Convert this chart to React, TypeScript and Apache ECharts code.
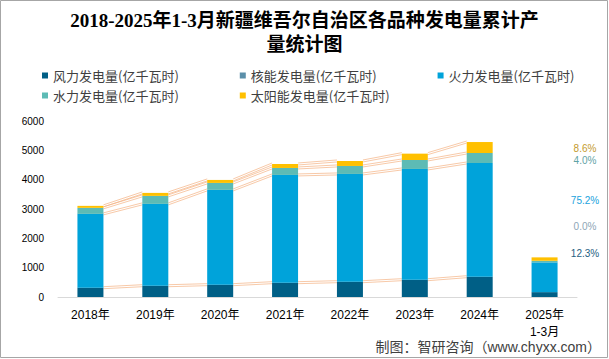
import React, { useEffect, useRef } from "react";
import * as echarts from "echarts";

const categories = ["2018年", "2019年", "2020年", "2021年", "2022年", "2023年", "2024年", "2025年\n1-3月"];
const windValues = [317, 385, 420, 488, 522, 590, 692, 166];
const nuclearValues = [0, 0, 0, 0, 0, 0, 0, 0];
const thermalValues = [2517, 2790, 3231, 3673, 3673, 3775, 3877, 1015];
const hydroValues = [205, 272, 238, 238, 272, 306, 340, 54];
const solarValues = [68, 102, 102, 136, 170, 216, 374, 116];
const seriesNames = [
  "风力发电量(亿千瓦时)",
  "核能发电量(亿千瓦时)",
  "火力发电量(亿千瓦时)",
  "水力发电量(亿千瓦时)",
  "太阳能发电量(亿千瓦时)",
];
const shareLabels = ["12.3%", "0.0%", "75.2%", "4.0%", "8.6%"]; // wind, nuclear, thermal, hydro, solar (2025 1-3月)
const yTicks = [0, 1000, 2000, 3000, 4000, 5000, 6000];

const COLORS = ["#005F86", "#5B8FA9", "#00A3DA", "#5DBBB5", "#FFC000"];
const LABEL_COLORS = ["#1F5E82", "#8EA6B6", "#1BA3DD", "#5FA3A6", "#C49A2C"];
const BAR_W = 26;

export default function App() {
  const ref = useRef<HTMLDivElement>(null);
  useEffect(() => {
    if (!ref.current) return;
    const chart = echarts.init(ref.current, undefined, { renderer: "svg" });
    const all = [windValues, nuclearValues, thermalValues, hydroValues, solarValues];
    const cum: number[][] = [];
    let running = categories.map(() => 0);
    all.forEach((arr) => {
      running = running.map((r, i) => r + arr[i]);
      cum.push(running.slice());
    });
    const connectorData: number[][] = [];
    [0, 2, 3, 4].forEach((lvl) => {
      for (let i = 0; i < 6; i++) {
        connectorData.push([i, cum[lvl][i], cum[lvl][i + 1]]);
      }
    });

    const labelY = [253, 226, 200, 160, 148];
    const cjk = "'Noto Sans CJK SC', sans-serif";

    chart.setOption({
      animation: false,
      title: {
        text: "2018-2025年1-3月新疆维吾尔自治区各品种发电量累计产\n量统计图",
        left: "center",
        top: 8,
        padding: 0,
        textStyle: {
          fontSize: 19,
          fontWeight: "bold",
          lineHeight: 24,
          color: "#000",
          fontFamily: "'Liberation Serif', 'Noto Sans CJK SC', serif",
        },
      },
      legend: [
        {
          data: seriesNames.slice(0, 3),
          left: 42,
          top: 69,
          padding: 0,
          itemGap: 61,
          itemWidth: 6,
          itemHeight: 6,
          icon: "rect",
          textStyle: { fontSize: 13, color: "#404040", fontFamily: cjk },
        },
        {
          data: seriesNames.slice(3),
          left: 42,
          top: 89,
          padding: 0,
          itemGap: 61,
          itemWidth: 6,
          itemHeight: 6,
          icon: "rect",
          textStyle: { fontSize: 13, color: "#404040", fontFamily: cjk },
        },
      ],
      grid: { left: 58, right: 32, top: 121, bottom: 62 },
      xAxis: {
        type: "category",
        data: categories,
        axisLine: { lineStyle: { color: "#D9D9D9", width: 1 } },
        axisTick: { show: false },
        axisLabel: {
          fontSize: 12,
          color: "#000",
          margin: 9,
          lineHeight: 17,
          fontFamily: "'Liberation Sans', 'Noto Sans CJK SC', sans-serif",
        },
      },
      yAxis: {
        type: "value",
        min: yTicks[0],
        max: yTicks[yTicks.length - 1],
        interval: 1000,
        splitLine: { show: false },
        axisLine: { show: false },
        axisTick: { show: false },
        axisLabel: {
          fontSize: 10,
          color: "#000",
          margin: 14,
          formatter: (v: number) => String(v),
          fontFamily: "'Liberation Sans', sans-serif",
        },
      },
      series: [
        ...all.map((arr, k) => ({
          name: seriesNames[k],
          type: "bar",
          stack: "total",
          barWidth: BAR_W,
          data: arr,
          itemStyle: { color: COLORS[k] },
        })),
        {
          type: "custom",
          silent: true,
          z: 1,
          data: connectorData,
          encode: { x: 0, y: 1 },
          renderItem: (params: any, api: any) => {
            const i = api.value(0);
            const p1 = api.coord([i, api.value(1)]);
            const p2 = api.coord([i + 1, api.value(2)]);
            const x1 = p1[0] + BAR_W / 2;
            const x2 = p2[0] - BAR_W / 2;
            const st = { stroke: "#F4B183", lineWidth: 0.7 };
            return {
              type: "group",
              children: [
                { type: "line", shape: { x1, y1: p1[1] - 1, x2, y2: p2[1] - 1 }, style: st },
                { type: "line", shape: { x1, y1: p1[1] + 1, x2, y2: p2[1] + 1 }, style: st },
              ],
            };
          },
        },
      ],
      graphic: [
        {
          type: "rect",
          shape: { x: 0.5, y: 0.5, width: 607, height: 357 },
          style: { fill: "none", stroke: "#A6A6A6", lineWidth: 1 },
          silent: true,
        },
        ...shareLabels.map((t, k) => ({
          type: "text",
          x: 585,
          y: labelY[k],
          style: {
            text: t,
            fill: LABEL_COLORS[k],
            fontSize: 10,
            fontFamily: "'Liberation Sans', sans-serif",
            align: "center",
            verticalAlign: "middle",
          },
        })),
        {
          type: "text",
          x: 601,
          y: 347,
          style: {
            text: "制图：智研咨询（www.chyxx.com）",
            fill: "#404040",
            fontSize: 14,
            fontFamily: "'Liberation Sans', 'Noto Sans CJK SC', sans-serif",
            align: "right",
            verticalAlign: "middle",
          },
        },
      ],
    });
    return () => chart.dispose();
  }, []);
  return (
    <div
      ref={ref}
      style={{ position: "fixed", left: 0, top: 0, width: 609, height: 359, background: "#fff" }}
    />
  );
}
